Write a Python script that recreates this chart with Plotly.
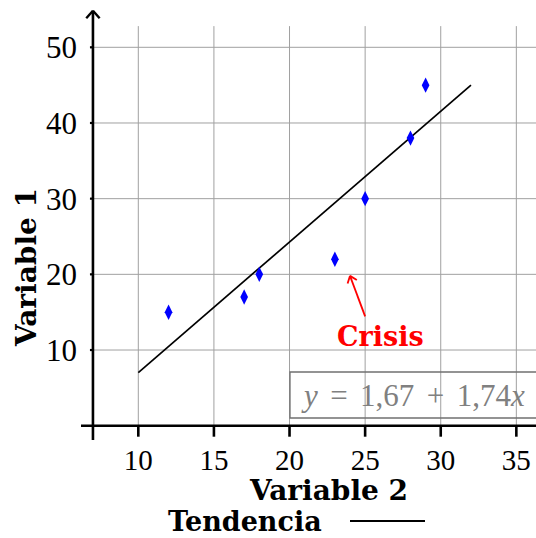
import math
import plotly.graph_objects as go

# ---- data ----
var2 = [12, 17, 18, 23, 25, 28, 29]          # x values (Variable 2)
var1 = [15, 17, 20, 22, 30, 38, 45]          # y values (Variable 1)
trend_x = [10, 32]
trend_y = [7, 45]
x_ticks = [10, 15, 20, 25, 30, 35]
y_ticks = [10, 20, 30, 40, 50]
crisis_point = (24, 19.8)
crisis_tail = (25, 14.45)
crisis_label = (26, 11.8)
equation = ("<i>y</i>&#8201;&#8201;=&#8201;&#8201;1,67&#8201;&#8201;+"
            "&#8201;&#8201;1,74<i>x</i>")

# ---- layout geometry ----
W, H = 536, 538
ML, MR, MT, MB = 81, 0, 10, 98
X0, X1 = 6.21, 36.30
Y0, Y1 = -1.89, 54.93
AX_X = 7          # where the vertical axis crosses
GRID_TOP = 52.8
pw, ph = W - ML - MR, H - MT - MB
sx = pw / (X1 - X0)   # px per x unit
sy = ph / (Y1 - Y0)   # px per y unit
BOTTOM = H - MB       # pixel row of the plot bottom

FONT = "Liberation Serif"
BFONT = "DejaVu Serif"
GRID = "#a0a0a0"


def px(x):
    return (x - ML) / pw


def py(y):
    return (BOTTOM - y) / ph


fig = go.Figure()

fig.add_trace(go.Scatter(
    x=trend_x, y=trend_y, mode="lines", name="Tendencia",
    line=dict(color="black", width=1.7), showlegend=False))
fig.add_trace(go.Scatter(
    x=var2, y=var1, mode="markers", name="Datos",
    marker=dict(symbol="diamond-tall", size=11, color="#0000ff",
                line=dict(width=0)), showlegend=False))

shapes = []
# grid
for xv in x_ticks:
    shapes.append(dict(type="line", xref="x", yref="y", x0=xv, x1=xv, y0=0, y1=GRID_TOP,
                       line=dict(color=GRID, width=1), layer="below"))
for yv in y_ticks:
    shapes.append(dict(type="line", xref="x", yref="y", x0=AX_X, x1=X1, y0=yv, y1=yv,
                       line=dict(color=GRID, width=1), layer="below"))
# axes
shapes.append(dict(type="line", xref="x", yref="y", x0=X0, x1=X1, y0=0, y1=0,
                   line=dict(color="black", width=2.6)))
tip_y = Y1 - 0.1
shapes.append(dict(type="line", xref="x", yref="y", x0=AX_X, x1=AX_X, y0=Y0, y1=tip_y,
                   line=dict(color="black", width=2.6)))
# x tick marks
for xv in x_ticks:
    shapes.append(dict(type="line", xref="x", yref="y", x0=xv, x1=xv, y0=0, y1=-11 / sy,
                       line=dict(color="black", width=2.6)))
# y tick marks
for yv in y_ticks:
    shapes.append(dict(type="line", xref="x", yref="y", x0=AX_X - 3 / sx, x1=AX_X, y0=yv, y1=yv,
                       line=dict(color="black", width=2.2)))


def chevron(tip, tail, color, length=9, ang=38, width=1.8):
    dx = (tip[0] - tail[0]) * sx
    dy = (tip[1] - tail[1]) * sy
    n = math.hypot(dx, dy)
    ux, uy = dx / n, dy / n
    out = []
    for s in (1, -1):
        a = math.radians(ang) * s
        bx = -(ux * math.cos(a) - uy * math.sin(a))
        by = -(ux * math.sin(a) + uy * math.cos(a))
        out.append(dict(type="line", xref="x", yref="y",
                        x0=tip[0], y0=tip[1],
                        x1=tip[0] + bx * length / sx, y1=tip[1] + by * length / sy,
                        line=dict(color=color, width=width)))
    return out


shapes += chevron((AX_X, tip_y), (AX_X, 0), "black", length=10, ang=42, width=2.4)
# crisis arrow
shapes.append(dict(type="line", xref="x", yref="y",
                   x0=crisis_tail[0], y0=crisis_tail[1], x1=crisis_point[0], y1=crisis_point[1],
                   line=dict(color="#ff0000", width=1.8)))
shapes += chevron(crisis_point, crisis_tail, "#ff0000", length=8, ang=38, width=1.8)

# equation box
shapes.append(dict(type="rect", xref="paper", yref="paper",
                   x0=px(290), x1=px(545), y0=py(418), y1=py(372),
                   line=dict(color="#707070", width=1.3)))

# legend sample line (paper coords)
shapes.append(dict(type="line", xref="paper", yref="paper",
                   x0=px(350), x1=px(425), y0=py(521), y1=py(521),
                   line=dict(color="black", width=1.8)))

annotations = [
    dict(x=crisis_label[0], y=crisis_label[1], xref="x", yref="y", text="<b>Crisis</b>",
         xanchor="center", yanchor="middle",
         showarrow=False, font=dict(family=BFONT, size=27, color="#ff0000")),
    dict(x=px(299), y=py(395), xref="paper", yref="paper",
         xanchor="left", yanchor="middle", text=equation, showarrow=False,
         font=dict(family=FONT, size=31, color="#808080")),
    dict(x=px(26), y=py(268), xref="paper", yref="paper",
         xanchor="center", yanchor="middle",
         text="<b>Variable 1</b>", textangle=-90, showarrow=False,
         font=dict(family=BFONT, size=28, color="black")),
    dict(x=px(328), y=py(490), xref="paper", yref="paper",
         xanchor="center", yanchor="middle",
         text="<b>Variable 2</b>", showarrow=False,
         font=dict(family=BFONT, size=28, color="black")),
    dict(x=px(245), y=py(521), xref="paper", yref="paper",
         xanchor="center", yanchor="middle",
         text="<b>Tendencia</b>", showarrow=False,
         font=dict(family=BFONT, size=27, color="black")),
]

fig.update_layout(
    width=W, height=H,
    margin=dict(l=ML, r=MR, t=MT, b=MB, pad=0),
    paper_bgcolor="white", plot_bgcolor="white",
    showlegend=False,
    shapes=shapes, annotations=annotations,
    xaxis=dict(range=[X0, X1], tickvals=x_ticks, showgrid=False, zeroline=False,
               showline=False, ticks="", ticklabelstandoff=0,
               tickfont=dict(family=FONT, size=29, color="black"), fixedrange=True),
    yaxis=dict(range=[Y0, Y1], tickvals=y_ticks, showgrid=False, zeroline=False,
               showline=False, ticks="", ticklabelstandoff=3,
               tickfont=dict(family=FONT, size=31, color="black"), fixedrange=True),
)

fig.write_html("out.html")
